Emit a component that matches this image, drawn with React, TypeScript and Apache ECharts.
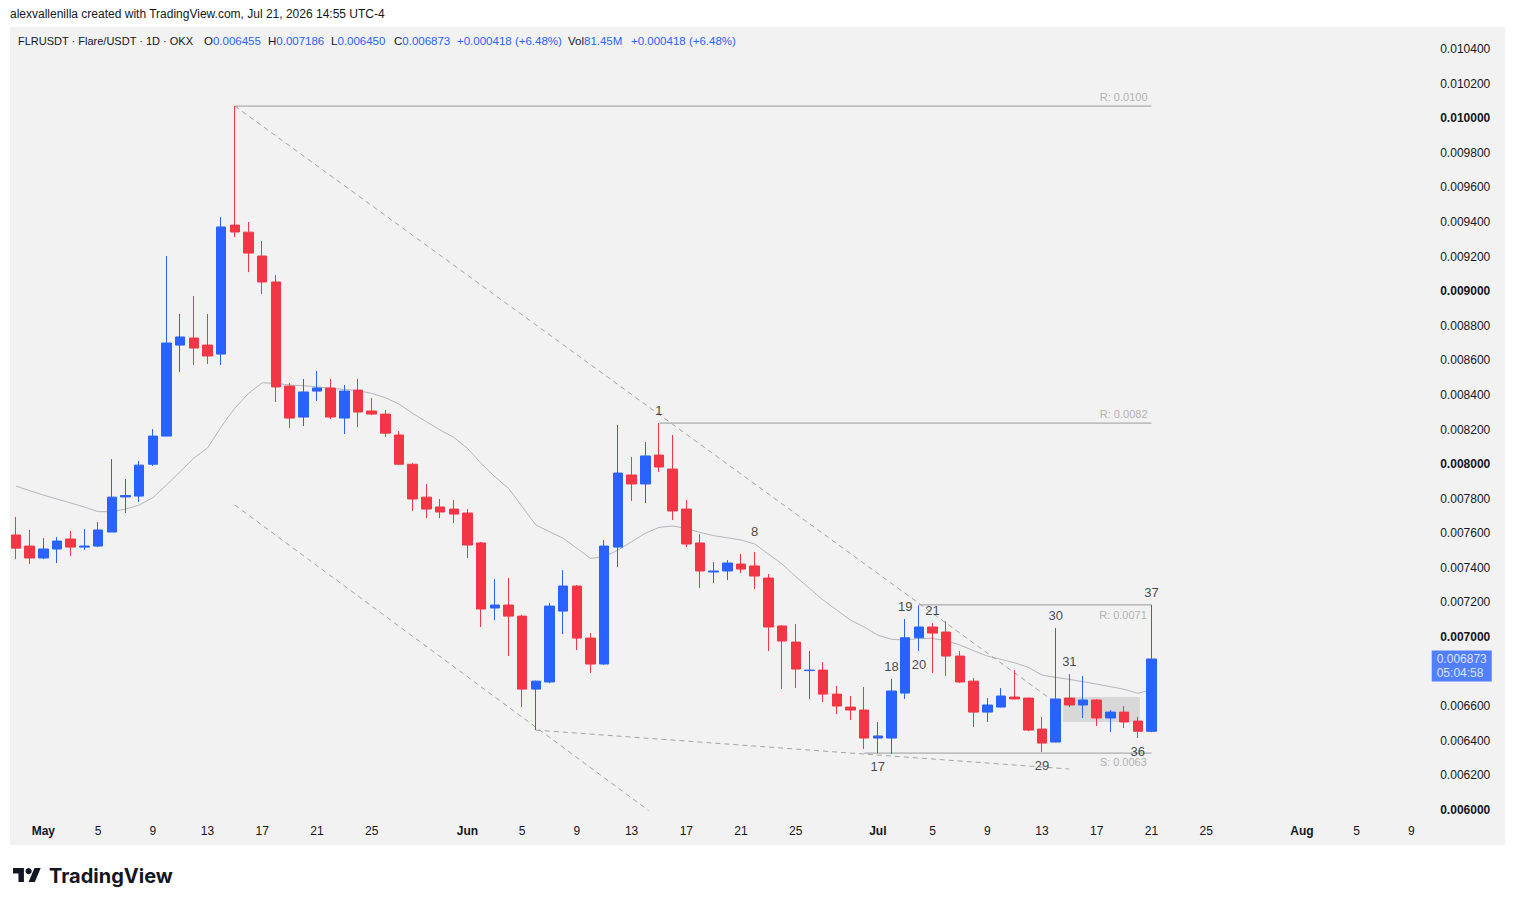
import React, { useEffect, useRef } from "react";
import * as echarts from "echarts";

// ---------- data ----------
const firstDay = { y: 2026, m: 3, d: 29 }; // Apr 29 2026 (month 0-based)
const axisDayCount = 103; // Apr 29 .. Aug 9
const monthNames = ["Jan", "Feb", "Mar", "Apr", "May", "Jun", "Jul", "Aug", "Sep", "Oct", "Nov", "Dec"];
const labelDays = [1, 5, 9, 13, 17, 21, 25];

// [open, high, low, close]
const ohlc: [number, number, number, number][] = [
  [0.00759, 0.007694, 0.007451, 0.007514],
  [0.007526, 0.007619, 0.007422, 0.007457],
  [0.007457, 0.007572, 0.007451, 0.007509],
  [0.007509, 0.007578, 0.007428, 0.007555],
  [0.007567, 0.007613, 0.007468, 0.00752],
  [0.00752, 0.007624, 0.007503, 0.007526],
  [0.007526, 0.007665, 0.00752, 0.007619],
  [0.007607, 0.008029, 0.007607, 0.007809],
  [0.00781, 0.007914, 0.007717, 0.007818],
  [0.007815, 0.008018, 0.007781, 0.007994],
  [0.007999, 0.008202, 0.007989, 0.008162],
  [0.008162, 0.009203, 0.008162, 0.0087],
  [0.008688, 0.008868, 0.008532, 0.008735],
  [0.008729, 0.008972, 0.008573, 0.008671],
  [0.008688, 0.008868, 0.008579, 0.008625],
  [0.008636, 0.009428, 0.008573, 0.009371],
  [0.009382, 0.01007, 0.009313, 0.009342],
  [0.009341, 0.0094, 0.00911, 0.00922],
  [0.009203, 0.00929, 0.008983, 0.009053],
  [0.009053, 0.009093, 0.008359, 0.008446],
  [0.008451, 0.008469, 0.008208, 0.008266],
  [0.008272, 0.008492, 0.00822, 0.008417],
  [0.008422, 0.008538, 0.008365, 0.00844],
  [0.00844, 0.008492, 0.00826, 0.008272],
  [0.008266, 0.008457, 0.008174, 0.008422],
  [0.008428, 0.008492, 0.008214, 0.008301],
  [0.008307, 0.008382, 0.008283, 0.008289],
  [0.008289, 0.008313, 0.008156, 0.008179],
  [0.008168, 0.008191, 0.007995, 0.007999],
  [0.007999, 0.008005, 0.007729, 0.007798],
  [0.007809, 0.007885, 0.007688, 0.00774],
  [0.007752, 0.007798, 0.007688, 0.007723],
  [0.00774, 0.007792, 0.007659, 0.007711],
  [0.007717, 0.00774, 0.007457, 0.007532],
  [0.007544, 0.00755, 0.007058, 0.007162],
  [0.007168, 0.007335, 0.007098, 0.007185],
  [0.007185, 0.007341, 0.00689, 0.007121],
  [0.007121, 0.007127, 0.006595, 0.006699],
  [0.006699, 0.006748, 0.006462, 0.006745],
  [0.00674, 0.007197, 0.006734, 0.007179],
  [0.00715, 0.007387, 0.007017, 0.007295],
  [0.007295, 0.007301, 0.006925, 0.006994],
  [0.006994, 0.007023, 0.006792, 0.006844],
  [0.006844, 0.007561, 0.00684, 0.007526],
  [0.00752, 0.008226, 0.007405, 0.007948],
  [0.007937, 0.008041, 0.007787, 0.007885],
  [0.007885, 0.008128, 0.007775, 0.008047],
  [0.008052, 0.008237, 0.007954, 0.007983],
  [0.007971, 0.008168, 0.007677, 0.007729],
  [0.00774, 0.007792, 0.00752, 0.007538],
  [0.007544, 0.007596, 0.007283, 0.007382],
  [0.007376, 0.007434, 0.007312, 0.007382],
  [0.007382, 0.007445, 0.00733, 0.007428],
  [0.007422, 0.00748, 0.00737, 0.007393],
  [0.007411, 0.007492, 0.007278, 0.007353],
  [0.007341, 0.007364, 0.006919, 0.007058],
  [0.007064, 0.00707, 0.006699, 0.006977],
  [0.006971, 0.007075, 0.006705, 0.006815],
  [0.006806, 0.006919, 0.006641, 0.006809],
  [0.006809, 0.006855, 0.006624, 0.00667],
  [0.00667, 0.006717, 0.006555, 0.006601],
  [0.006595, 0.006659, 0.00652, 0.006578],
  [0.006578, 0.006711, 0.006353, 0.006416],
  [0.006416, 0.006509, 0.006329, 0.006428],
  [0.006416, 0.006758, 0.006324, 0.006688],
  [0.006676, 0.007104, 0.006642, 0.006996],
  [0.006996, 0.007183, 0.006919, 0.007058],
  [0.007058, 0.007081, 0.006792, 0.007023],
  [0.007029, 0.007092, 0.006775, 0.00689],
  [0.00689, 0.006919, 0.006734, 0.00674],
  [0.006745, 0.006763, 0.00648, 0.006566],
  [0.006566, 0.006647, 0.006509, 0.006607],
  [0.006595, 0.006705, 0.006593, 0.006659],
  [0.006653, 0.006809, 0.00664, 0.006642],
  [0.006647, 0.00665, 0.006456, 0.006462],
  [0.006468, 0.006538, 0.006335, 0.006387],
  [0.006393, 0.007052, 0.00639, 0.006642],
  [0.006647, 0.006786, 0.006595, 0.006607],
  [0.006607, 0.006775, 0.006532, 0.006636],
  [0.006636, 0.006642, 0.006486, 0.006532],
  [0.006532, 0.006578, 0.006451, 0.006566],
  [0.006566, 0.006601, 0.006474, 0.006509],
  [0.006514, 0.006538, 0.006416, 0.006455],
  [0.006455, 0.007186, 0.00645, 0.006873],
];

const maValues = [
  0.007873, 0.007846, 0.007821, 0.007798, 0.007775, 0.007752, 0.007725, 0.007725, 0.00774, 0.007763,
  0.007806, 0.007879, 0.007956, 0.008035, 0.008093, 0.008216, 0.008324, 0.008409, 0.00847, 0.008467,
  0.008457, 0.008453, 0.008447, 0.008438, 0.008432, 0.008424, 0.008409, 0.008384, 0.008347, 0.008293,
  0.008245, 0.008197, 0.008155, 0.008091, 0.008004, 0.007927, 0.00786, 0.007754, 0.007648, 0.007609,
  0.007571, 0.007513, 0.007455, 0.007464, 0.007503, 0.007551, 0.0076, 0.007634, 0.007642, 0.007628,
  0.007605, 0.007586, 0.007574, 0.007561, 0.007538, 0.00748, 0.007422, 0.007349, 0.007282, 0.007214,
  0.007156, 0.007098, 0.007058, 0.007011, 0.006987, 0.006983, 0.006992, 0.006992, 0.006979, 0.006954,
  0.006921, 0.00689, 0.006871, 0.006851, 0.006825, 0.00678, 0.006767, 0.006755, 0.006742, 0.006728,
  0.006713, 0.006698, 0.006675, 0.006694,
];

// horizontal levels: [fromIndex, toIndex, price, label]
const levelLines: [number, number, number, string][] = [
  [16, 83, 0.01007, "R: 0.0100"],
  [47, 83, 0.008237, "R: 0.0082"],
  [66, 83, 0.007186, "R: 0.0071"],
  [62, 83, 0.006329, "S: 0.0063"],
];
// label anchor (index, price) for level captions
const levelLabelAnchors: [number, number][] = [
  [82.75, 0.010122],
  [82.75, 0.008289],
  [82.7, 0.007127],
  [82.7, 0.006277],
];

// dashed trend lines: [[i0, p0], [i1, p1]]
const trendLines: [number, number][][] = [
  [[16, 0.01007], [76, 0.00662]],
  [[16, 0.007763], [47, 0.005953]],
  [[38, 0.006462], [77, 0.006237]],
];

// count labels: [text, index, price]
const countLabels: [string, number, number][] = [
  ["1", 47, 0.008312],
  ["8", 54, 0.007613],
  ["17", 63, 0.006254],
  ["18", 64, 0.006832],
  ["19", 65, 0.007179],
  ["20", 66, 0.006844],
  ["21", 67, 0.007156],
  ["29", 75, 0.00626],
  ["30", 76, 0.007127],
  ["31", 77, 0.006861],
  ["36", 82, 0.006341],
  ["37", 83, 0.00726],
];

// consolidation box: [i0, p0, i1, p1]
const rangeBox: [number, number, number, number] = [76.55, 0.006653, 82.15, 0.006509];

const volumeText = "81.45M";
const countdownText = "05:04:58";

const yMin = 0.006;
const yMax = 0.0104;
const yStep = 0.0002;

// ---------- derived ----------
const categories: string[] = [];
for (let k = 0; k < axisDayCount; k++) {
  const dt = new Date(Date.UTC(firstDay.y, firstDay.m, firstDay.d + k));
  categories.push(dt.toISOString().slice(0, 10));
}

const UP = "#2962FF";
const DOWN = "#F23645";
const TEXT = "#131722";
const FONT = "'Liberation Sans', Arial, sans-serif";

const fmt = (v: number) => v.toFixed(6);

export default function App() {
  const ref = useRef<HTMLDivElement>(null);

  useEffect(() => {
    if (!ref.current) return;
    const chart = echarts.init(ref.current, undefined, { renderer: "svg" });

    echarts.graphic.registerShape(
      "tvlogo",
      echarts.graphic.extendPath("M14 22H7V11H0V4h14v18zM28 22h-8l7.5-18h8L28 22z", {})
    );

    const last = ohlc[ohlc.length - 1];
    const prevClose = ohlc[ohlc.length - 2][3];
    const chg = last[3] - prevClose;
    const pct = (chg / prevClose) * 100;
    const chgText = `${chg >= 0 ? "+" : ""}${fmt(chg)} (${chg >= 0 ? "+" : ""}${pct.toFixed(2)}%)`;

    const gridLeft = 9.16;
    const gridWidth = 13.68 * axisDayCount;
    const gridTop = 49;
    const gridHeight = 761;

    const LEG = 11.5;
    const legendItem = (x: number, key: string, val: string) => ({
      type: "text",
      x,
      y: 41,
      style: {
        text: key ? `{k|${key}}{v|${val}}` : `{v|${val}}`,
        verticalAlign: "middle",
        font: `${LEG}px ${FONT}`,
        rich: {
          k: { fill: TEXT, fontSize: LEG, fontFamily: FONT },
          v: { fill: UP, fontSize: LEG, fontFamily: FONT },
        },
      },
    });

    const option: any = {
      animation: false,
      backgroundColor: "transparent",
      textStyle: { fontFamily: FONT },
      grid: { left: gridLeft, top: gridTop, width: gridWidth, height: gridHeight, containLabel: false },
      xAxis: [
        {
          type: "category",
          data: categories,
          boundaryGap: true,
          axisLine: { show: false },
          axisTick: { show: false },
          splitLine: { show: false },
          axisLabel: {
            margin: 15,
            color: TEXT,
            fontSize: 12,
            fontFamily: FONT,
            interval: (_i: number, val: string) => labelDays.indexOf(Number(val.slice(8, 10))) >= 0,
            formatter: (val: string) => {
              const d = Number(val.slice(8, 10));
              const m = Number(val.slice(5, 7)) - 1;
              return d === 1 ? `{m|${monthNames[m]}}` : String(d);
            },
            rich: { m: { fontWeight: "bold", color: TEXT, fontSize: 12, fontFamily: FONT } },
          },
        },
        {
          type: "value",
          min: -0.5,
          max: axisDayCount - 0.5,
          show: false,
          splitLine: { show: false },
        },
      ],
      yAxis: {
        type: "value",
        position: "right",
        min: yMin,
        max: yMax,
        interval: yStep,
        splitLine: { show: false },
        axisLine: { show: false },
        axisTick: { show: false },
        axisLabel: {
          margin: 22,
          color: TEXT,
          fontSize: 12,
          fontFamily: FONT,
          formatter: (v: number) => {
            if (Math.abs(v - 0.0068) < 1e-9) return "";
            const s = fmt(v);
            const thousand = Math.abs(Math.round(v * 1000) - v * 1000) < 1e-6;
            return thousand ? `{b|${s}}` : s;
          },
          rich: { b: { fontWeight: "bold", color: TEXT, fontSize: 12, fontFamily: FONT } },
        },
      },
      series: [
        {
          name: "MA",
          type: "line",
          xAxisIndex: 0,
          data: maValues,
          symbol: "none",
          smooth: false,
          lineStyle: { color: "#b4b6bc", width: 1 },
          z: 2,
          silent: true,
        },
        {
          name: "FLRUSDT",
          type: "candlestick",
          xAxisIndex: 0,
          data: ohlc.map((c) => [c[0], c[3], c[2], c[1]]),
          barWidth: 10,
          itemStyle: {
            color: UP,
            color0: DOWN,
            borderColor: UP,
            borderColor0: DOWN,
            borderWidth: 1,
          },
          z: 4,
        },
        ...levelLines.map((lv, k) => ({
          type: "line",
          xAxisIndex: 1,
          data: [
            [lv[0], lv[2]],
            [lv[1], lv[2]],
          ],
          symbol: "none",
          lineStyle: { color: "#9a9a9a", width: 1 },
          z: 3,
          silent: true,
          ...(k === 3
            ? {
                markArea: {
                  silent: true,
                  itemStyle: { color: "rgba(190,190,190,0.5)" },
                  data: [[{ coord: [rangeBox[0], rangeBox[1]] }, { coord: [rangeBox[2], rangeBox[3]] }]],
                },
              }
            : {}),
        })),
        ...trendLines.map((tl) => ({
          type: "line",
          xAxisIndex: 1,
          data: tl,
          symbol: "none",
          lineStyle: { color: "#a3a3a3", width: 1, type: [5, 4] },
          z: 3,
          silent: true,
        })),
        {
          type: "scatter",
          xAxisIndex: 1,
          data: levelLines.map((lv, k) => [levelLabelAnchors[k][0], levelLabelAnchors[k][1], lv[3]]),
          symbolSize: 1,
          itemStyle: { color: "rgba(0,0,0,0)" },
          silent: true,
          z: 5,
          label: {
            show: true,
            position: "left",
            distance: 0,
            formatter: (p: any) => p.value[2],
            color: "#a0a0a0",
            fontSize: 11,
            fontFamily: FONT,
          },
        },
        {
          type: "scatter",
          xAxisIndex: 1,
          data: countLabels.map((c) => [c[1], c[2], c[0]]),
          symbolSize: 1,
          itemStyle: { color: "rgba(0,0,0,0)" },
          silent: true,
          z: 5,
          label: {
            show: true,
            position: "inside",
            formatter: (p: any) => p.value[2],
            color: TEXT,
            fontSize: 13,
            fontFamily: FONT,
          },
        },
        {
          // last price tag on the price scale
          type: "scatter",
          xAxisIndex: 1,
          data: [[axisDayCount - 0.5, last[3]]],
          symbolSize: 1,
          itemStyle: { color: "rgba(0,0,0,0)" },
          silent: true,
          clip: false,
          z: 6,
          label: {
            show: true,
            position: "right",
            distance: 13,
            offset: [0, 7],
            formatter: () => `${fmt(last[3])}\n${countdownText}`,
            backgroundColor: UP,
            color: "#ffffff",
            fontSize: 12,
            lineHeight: 14,
            fontFamily: FONT,
            padding: [2, 5, 1, 5],
          },
        },
      ],
      graphic: [
        {
          type: "text",
          x: 10,
          y: 14,
          style: {
            text: "alexvallenilla created with TradingView.com, Jul 21, 2026 14:55 UTC-4",
            fill: TEXT,
            font: `12px ${FONT}`,
            verticalAlign: "middle",
          },
        },
        {
          type: "text",
          x: 18,
          y: 41,
          style: {
            text: "FLRUSDT · Flare/USDT · 1D · OKX",
            fill: TEXT,
            font: `11px ${FONT}`,
            verticalAlign: "middle",
          },
        },
        legendItem(204, "O", fmt(last[0])),
        legendItem(268, "H", fmt(last[1])),
        legendItem(331, "L", fmt(last[2])),
        legendItem(394, "C", fmt(last[3])),
        legendItem(457, "", chgText),
        legendItem(568, "Vol", volumeText),
        legendItem(631, "", chgText),
        {
          type: "tvlogo",
          x: 13,
          y: 864.9,
          scaleX: 0.78,
          scaleY: 0.78,
          style: { fill: TEXT },
        },
        {
          type: "circle",
          shape: { cx: 13 + 20 * 0.78, cy: 864.9 + 8 * 0.78, r: 4 * 0.78 },
          style: { fill: TEXT },
        },
        {
          type: "text",
          x: 49,
          y: 876,
          style: {
            text: "TradingView",
            fill: TEXT,
            font: `bold 20px Inter, 'Noto Sans', sans-serif`,
            verticalAlign: "middle",
          },
        },
      ],
    };

    chart.setOption(option);
    return () => chart.dispose();
  }, []);

  return (
    <div style={{ position: "fixed", left: 0, top: 0, width: 1515, height: 906, background: "#ffffff" }}>
      <div style={{ position: "absolute", left: 10, top: 27, width: 1495, height: 818, background: "#f2f2f2" }} />
      <div ref={ref} style={{ position: "absolute", left: 0, top: 0, width: 1515, height: 906 }} />
    </div>
  );
}
